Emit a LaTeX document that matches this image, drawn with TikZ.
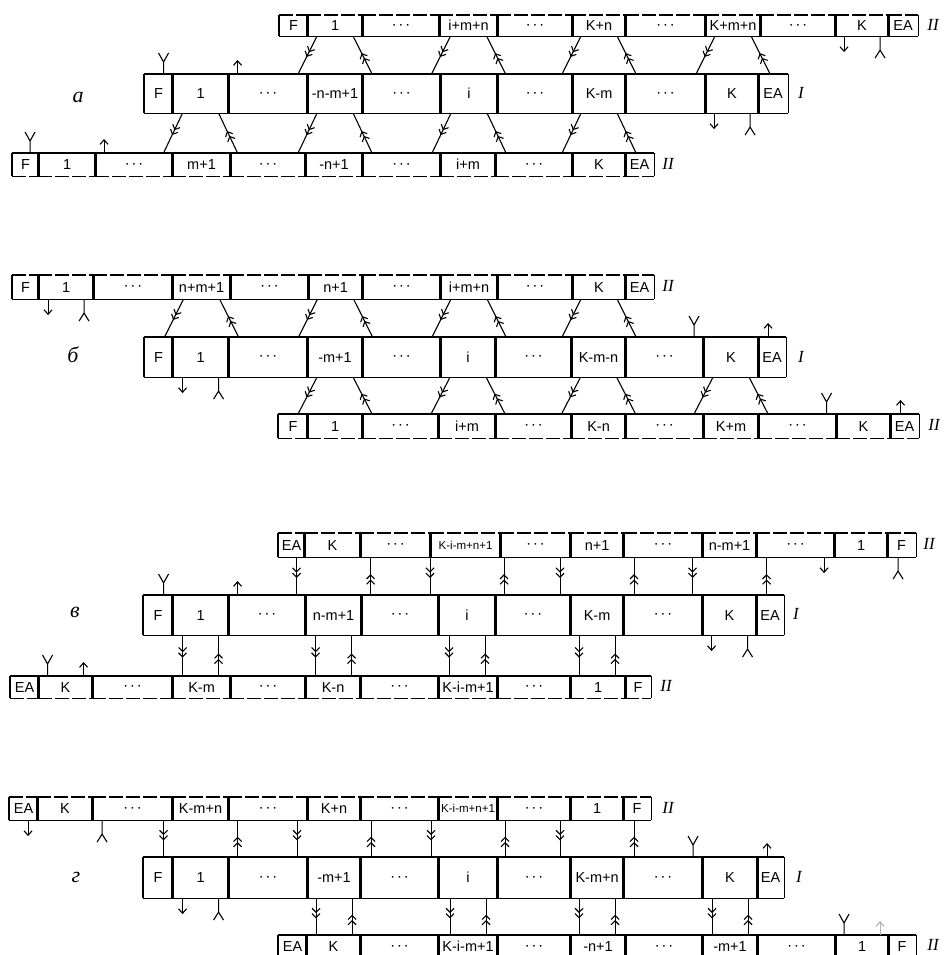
\documentclass[tikz,border=0pt]{standalone}
\usepackage{fontspec}
\setmainfont{Liberation Sans}
\newfontfamily\seriffont{Liberation Serif}
\usetikzlibrary{calc,arrows.meta,decorations.markings}
\newcommand\dotcell{{\fontsize{6.5}{7}\selectfont\textbullet\hspace{4.5pt}\textbullet\hspace{4.5pt}\textbullet}}
\newcommand\longlab[1]{{\fontsize{11.5}{12}\selectfont #1}}

\begin{document}
\begin{tikzpicture}[x=1pt,y=-1pt,line width=1.1pt,
    cell/.style={inner sep=0pt,anchor=north west,font=\fontsize{14.5}{15}\selectfont},
    rimsolid/.style={solid},
    rimdash/.style={dash pattern=on 14pt off 3pt},
    flow/.style={postaction={decorate},decoration={markings,mark=at position 0.55 with
        {\arrow{Straight Barb[length=4pt,width=8pt] Straight Barb[length=4pt,width=8pt]}}}},
    endtip/.style={-{Straight Barb[length=4.5pt,width=8pt]}},
    rowtag/.style={font=\seriffont\itshape\fontsize{17}{17}\selectfont},
    parttag/.style={font=\seriffont\itshape\fontsize{22}{22}\selectfont}]
\useasboundingbox (0,0) rectangle (946,955);

\foreach \rw/\ytop/\hgt/\tedge/\bedge/\cells in {
    aT/15/20/rimdash/rimsolid/{279/307/F,307/362/1,362/439/\dotcell,439/497/i+m+n,497/572/\dotcell,572/625/K+n,625/705/\dotcell,705/760/K+m+n,760/835/\dotcell,835/888/K,888/917/EA},
    aM/74/38/rimsolid/rimsolid/{144/172/F,172/228/1,228/307/\dotcell,307/362/-n-m+1,362/440/\dotcell,440/497/i,497/572/\dotcell,572/625/K-m,625/705/\dotcell,705/758/K,758/787/EA},
    aB/153/22/rimsolid/rimdash/{12/38/F,38/95/1,95/172/\dotcell,172/230/m+1,230/305/\dotcell,305/362/-n+1,362/440/\dotcell,440/495/i+m,495/572/\dotcell,572/625/K,625/653/EA},
    bT/275/23/rimdash/rimsolid/{12/38/F,38/93/1,93/172/\dotcell,172/230/n+m+1,230/308/\dotcell,308/362/n+1,362/440/\dotcell,440/497/i+m+n,497/572/\dotcell,572/625/K,625/653/EA},
    bM/337/39/rimsolid/rimsolid/{144/172/F,172/228/1,228/307/\dotcell,307/362/-m+1,362/440/\dotcell,440/495/i,495/571/\dotcell,571/625/K-m-n,625/703/\dotcell,703/758/K,758/785/EA},
    bB/414/23/rimsolid/rimdash/{278/307/F,307/362/1,362/438/\dotcell,438/495/i+m,495/571/\dotcell,571/625/K-n,625/703/\dotcell,703/758/K+m,758/836/\dotcell,836/890/K,890/918/EA},
    cT/533/23/rimdash/rimsolid/{278/304/EA,304/360/K,360/430/\dotcell,430/500/\longlab{K-i-m+n+1},500/570/\dotcell,570/623/n+1,623/702/\dotcell,702/756/n-m+1,756/834/\dotcell,834/887/1,887/915/F},
    cM/595/39/rimsolid/rimsolid/{143/172/F,172/228/1,228/305/\dotcell,305/361/n-m+1,361/438/\dotcell,438/495/i,495/570/\dotcell,570/623/K-m,623/702/\dotcell,702/756/K,756/783/EA},
    cB/676/21/rimsolid/rimdash/{10/38/EA,38/92/K,92/172/\dotcell,172/230/K-m,230/305/\dotcell,305/360/K-n,360/438/\dotcell,438/497/K-i-m+1,497/570/\dotcell,570/625/1,625/650/F},
    dT/797/22/rimdash/rimsolid/{9/37/EA,37/92/K,92/172/\dotcell,172/228/K-m+n,228/307/\dotcell,307/360/K+n,360/438/\dotcell,438/497/\longlab{K-i-m+n+1},497/570/\dotcell,570/623/1,623/650/F},
    dM/857/40/rimsolid/rimsolid/{143/172/F,172/228/1,228/307/\dotcell,307/360/-m+1,360/438/\dotcell,438/497/i,497/570/\dotcell,570/623/K-m+n,623/702/\dotcell,702/757/K,757/783/EA},
    dB/935/22/rimsolid/rimdash/{278/306/EA,306/360/K,360/438/\dotcell,438/497/K-i-m+1,497/570/\dotcell,570/625/-n+1,625/702/\dotcell,702/757/-m+1,757/835/\dotcell,835/888/1,888/915/F}} {
    \foreach \xa/\xb/\lab [count=\k] in \cells {
        \pgfmathsetmacro\wid{\xb-\xa}
        \node[cell,minimum width=\wid pt,minimum height=\hgt pt] (\rw\k) at (\xa,\ytop) {\lab};
        \draw (\rw\k.north west) -- (\rw\k.south west);
        \draw (\rw\k.north east) -- (\rw\k.south east);
        \draw[\tedge] (\rw\k.north west) -- (\rw\k.north east);
        \draw[\bedge] (\rw\k.south west) -- (\rw\k.south east);
    }
}

\foreach \ce/\ur/\lr/\ou/\ol in {
    aT2/aT1/aM1/18/37,aT4/aT1/aM1/18/37,aT6/aT1/aM1/18/37,aT8/aT1/aM1/18/37,
    aM2/aM1/aB1/18/37,aM4/aM1/aB1/18/37,aM6/aM1/aB1/18/37,aM8/aM1/aB1/18/37,
    bT4/bT1/bM1/18/37,bT6/bT1/bM1/18/37,bT8/bT1/bM1/18/37,bT10/bT1/bM1/18/37,
    bM4/bM1/bB1/18/37,bM6/bM1/bB1/18/37,bM8/bM1/bB1/18/37,bM10/bM1/bB1/18/37,
    cM4/cT1/cM1/37/37,cM6/cT1/cM1/37/37,cM8/cT1/cM1/37/37,cM10/cT1/cM1/37/37,
    cM2/cM1/cB1/18/18,cM4/cM1/cB1/18/18,cM6/cM1/cB1/18/18,cM8/cM1/cB1/18/18,
    dM2/dT1/dM1/37/37,dM4/dT1/dM1/37/37,dM6/dT1/dM1/37/37,dM8/dT1/dM1/37/37,
    dM4/dM1/dB1/18/18,dM6/dM1/dB1/18/18,dM8/dM1/dB1/18/18,dM10/dM1/dB1/18/18} {
    \draw[flow] ($(\ce |- \ur.south)+(-\ou,0)$) -- ($(\ce |- \lr.north)+(-\ol,0)$);
    \draw[flow] ($(\ce |- \lr.north)+(\ol,0)$) -- ($(\ce |- \ur.south)+(\ou,0)$);
}

\foreach \ce/\of/\col in {aM2/37/black,aB2/37/black,bM10/37/black,bB10/37/black,
    cM2/37/black,cB2/18/black,dM10/37/black,dB10/18/black!30} {
    \draw ($(\ce.north)+(-\of,0)$) -- ++(0,-12) -- ++(-5,-9) ++(5,9) -- ++(5,-9);
    \draw[endtip,\col] ($(\ce.north)+(\of,0)$) -- ++(0,-14);
}
\foreach \ce/\of in {aT10/18,aM10/18,bT2/18,bM2/18,cT10/37,cM10/18,dT2/37,dM2/18} {
    \draw[endtip] ($(\ce.south)+(-\of,0)$) -- ++(0,16);
    \draw ($(\ce.south)+(\of,0)$) -- ++(0,14) -- ++(-5,8) ++(5,-8) -- ++(5,8);
}

\foreach \nm/\x/\y/\txt in {aTt/933/25/II,aMt/801/93/I,aBt/668/164/II,
    bTt/668/286/II,bMt/801/357/I,bBt/934/425/II,
    cTt/929/544/II,cMt/796/614/I,cBt/666/686/II,
    dTt/668/808/II,dMt/799/877/I,dBt/933/945/II}
    \node[rowtag] (\nm) at (\x,\y) {\txt};
\foreach \nm/\x/\y/\txt in {aP/78/97/а,bP/73/355/б,cP/75/612/в,dP/76/877/г}
    \node[parttag] (\nm) at (\x,\y) {\txt};
\end{tikzpicture}
\end{document}
